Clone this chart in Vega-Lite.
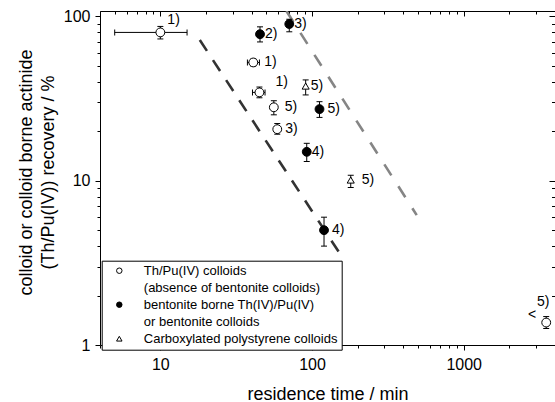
{
  "$schema": "https://vega.github.io/schema/vega-lite/v6.json",
  "width": 455,
  "height": 334,
  "autosize": {"type": "none"},
  "padding": {"left": 100, "top": 11, "right": 0, "bottom": 57},
  "background": "white",
  "config": {
    "font": "Liberation Sans",
    "view": {"stroke": null},
    "axis": {
      "domainColor": "black",
      "tickColor": "black",
      "labelColor": "black",
      "titleColor": "black",
      "grid": false,
      "labelFont": "Liberation Sans",
      "titleFont": "Liberation Sans",
      "titleFontWeight": "normal",
      "domainWidth": 1,
      "tickWidth": 1,
      "zindex": 1,
      "labelFlush": false,
      "labelOverlap": false
    }
  },
  "datasets": {
    "fits": [
      {"fit": "bentonite", "t": 18.2, "r": 71.9},
      {"fit": "bentonite", "t": 160, "r": 3.37},
      {"fit": "polystyrene", "t": 67.8, "r": 108},
      {"fit": "polystyrene", "t": 490, "r": 6.18}
    ],
    "pts": [
      {"id": "A1", "series": "Th/Pu(IV) colloids", "label": "1)", "t": 10, "r": 80, "rlo": 73, "rhi": 87, "tlo": 5, "thi": 15},
      {"id": "A2", "series": "Th/Pu(IV) colloids", "label": "1)", "t": 41, "r": 52.5, "rlo": 50, "rhi": 55, "tlo": 37.5, "thi": 45},
      {"id": "A3", "series": "Th/Pu(IV) colloids", "label": "1)", "t": 45, "r": 34.5, "rlo": 32, "rhi": 37.2, "tlo": 40.5, "thi": 49},
      {"id": "A4", "series": "Th/Pu(IV) colloids", "label": "5)", "t": 56, "r": 28, "rlo": 25.2, "rhi": 30.7},
      {"id": "A5", "series": "Th/Pu(IV) colloids", "label": "3)", "t": 59, "r": 20.6, "rlo": 19.2, "rhi": 22.3},
      {"id": "A6", "series": "Th/Pu(IV) colloids", "label": "5)", "t": 3500, "r": 1.37, "rlo": 1.26, "rhi": 1.49},
      {"id": "B1", "series": "bentonite borne Th(IV)/Pu(IV)", "label": "2)", "t": 45.4, "r": 78, "rlo": 70, "rhi": 86.5},
      {"id": "B2", "series": "bentonite borne Th(IV)/Pu(IV)", "label": "3)", "t": 70.8, "r": 90, "rlo": 80.7, "rhi": 96.2},
      {"id": "B3", "series": "bentonite borne Th(IV)/Pu(IV)", "label": "5)", "t": 112, "r": 27.3, "rlo": 24.3, "rhi": 30.3},
      {"id": "B4", "series": "bentonite borne Th(IV)/Pu(IV)", "label": "4)", "t": 92.3, "r": 15, "rlo": 13.1, "rhi": 16.9},
      {"id": "B5", "series": "bentonite borne Th(IV)/Pu(IV)", "label": "4)", "t": 120, "r": 5, "rlo": 4, "rhi": 6},
      {"id": "C1", "series": "Carboxylated polystyrene colloids", "label": "5)", "t": 90.8, "r": 37.7, "rlo": 33.3, "rhi": 41.1},
      {"id": "C2", "series": "Carboxylated polystyrene colloids", "label": "5)", "t": 180, "r": 10.1, "rlo": 9.1, "rhi": 10.8}
    ]
  },
  "layer": [
    {
      "data": {"name": "fits"},
      "mark": {"type": "line", "strokeWidth": 2.6, "clip": true},
      "encoding": {
        "x": {
          "field": "t", "type": "quantitative",
          "scale": {"type": "log", "domain": [4, 4000], "nice": false},
          "axis": {
            "orient": "bottom",
            "values": [4,5,6,7,8,9,10,20,30,40,50,60,70,80,90,100,200,300,400,500,600,700,800,900,1000,2000,3000,4000],
            "labelExpr": "(datum.value === 10 || datum.value === 100 || datum.value === 1000) ? format(datum.value, 'd') : ''",
            "tickSize": {"condition": {"test": "datum.value === 10 || datum.value === 100 || datum.value === 1000", "value": 5}, "value": 3},
            "labelPadding": 6,
            "labelFontSize": 16,
            "title": "residence time / min",
            "titleFontSize": 18,
            "titleY": 54,
            "titleBaseline": "alphabetic"
          }
        },
        "y": {
          "field": "r", "type": "quantitative",
          "scale": {"type": "log", "domain": [1, 108], "nice": false},
          "axis": {
            "orient": "left",
            "values": [1,2,3,4,5,6,7,8,9,10,20,30,40,50,60,70,80,90,100],
            "labelExpr": "(datum.value === 1 || datum.value === 10 || datum.value === 100) ? format(datum.value, 'd') : ''",
            "tickSize": {"condition": {"test": "datum.value === 1 || datum.value === 10 || datum.value === 100", "value": 5}, "value": 3},
            "labelPadding": 5,
            "labelFontSize": 16,
            "title": ["colloid or colloid borne actinide", "(Th/Pu(IV)) recovery / %"],
            "titleFontSize": 18,
            "titleX": -69,
            "titleY": 161,
            "titleAngle": 270,
            "titleAlign": "center",
            "titleBaseline": "alphabetic",
            "titleLineHeight": 22
          }
        },
        "color": {"field": "fit", "type": "nominal", "scale": {"domain": ["bentonite", "polystyrene"], "range": ["#333333", "#858585"]}, "legend": null},
        "strokeDash": {"field": "fit", "type": "nominal", "scale": {"domain": ["bentonite", "polystyrene"], "range": [[13, 11], [13, 13]]}, "legend": null}
      }
    },
    {
      "data": {"name": "pts"},
      "mark": {"type": "rule", "color": "black", "strokeWidth": 1},
      "encoding": {
        "x": {
          "field": "t", "type": "quantitative",
          "scale": {"type": "log", "domain": [4, 4000], "nice": false},
          "axis": {
            "orient": "top",
            "values": [4,5,6,7,8,9,10,20,30,40,50,60,70,80,90,100,200,300,400,500,600,700,800,900,1000,2000,3000,4000],
            "labels": false,
            "tickSize": {"condition": {"test": "datum.value === 10 || datum.value === 100 || datum.value === 1000", "value": -5}, "value": -3},
            "title": null
          }
        },
        "y": {
          "field": "rlo", "type": "quantitative",
          "scale": {"type": "log", "domain": [1, 108], "nice": false},
          "axis": {
            "orient": "right",
            "values": [1,2,3,4,5,6,7,8,9,10,20,30,40,50,60,70,80,90,100],
            "labels": false,
            "domain": false,
            "tickSize": {"condition": {"test": "datum.value === 1 || datum.value === 10 || datum.value === 100", "value": -6}, "value": -3.5},
            "title": null
          }
        },
        "y2": {"field": "rhi"}
      }
    },
    {
      "data": {"name": "pts"},
      "transform": [{"fold": ["rlo", "rhi"], "as": ["end", "v"]}],
      "mark": {"type": "tick", "orient": "horizontal", "size": 6, "thickness": 1, "color": "black", "opacity": 1},
      "encoding": {
        "x": {"field": "t", "type": "quantitative", "scale": {"type": "log", "domain": [4, 4000], "nice": false}, "axis": null},
        "y": {"field": "v", "type": "quantitative", "scale": {"type": "log", "domain": [1, 108], "nice": false}, "axis": null}
      }
    },
    {
      "data": {"name": "pts"},
      "transform": [{"filter": "isValid(datum.tlo)"}],
      "mark": {"type": "rule", "color": "black", "strokeWidth": 1},
      "encoding": {
        "x": {"field": "tlo", "type": "quantitative", "scale": {"type": "log", "domain": [4, 4000], "nice": false}, "axis": null},
        "x2": {"field": "thi"},
        "y": {"field": "r", "type": "quantitative", "scale": {"type": "log", "domain": [1, 108], "nice": false}, "axis": null}
      }
    },
    {
      "data": {"name": "pts"},
      "transform": [{"filter": "isValid(datum.tlo)"}, {"fold": ["tlo", "thi"], "as": ["end", "v"]}],
      "mark": {"type": "tick", "orient": "vertical", "size": 6, "thickness": 1, "color": "black", "opacity": 1},
      "encoding": {
        "x": {"field": "v", "type": "quantitative", "scale": {"type": "log", "domain": [4, 4000], "nice": false}, "axis": null},
        "y": {"field": "r", "type": "quantitative", "scale": {"type": "log", "domain": [1, 108], "nice": false}, "axis": null}
      }
    },
    {
      "data": {"name": "pts"},
      "mark": {"type": "point", "filled": true, "stroke": "black", "strokeWidth": 1, "opacity": 1},
      "encoding": {
        "x": {"field": "t", "type": "quantitative", "scale": {"type": "log", "domain": [4, 4000], "nice": false}, "axis": null},
        "y": {"field": "r", "type": "quantitative", "scale": {"type": "log", "domain": [1, 108], "nice": false}, "axis": null},
        "size": {"condition": {"test": "datum.series === 'Carboxylated polystyrene colloids'", "value": 50}, "value": 78},
        "fill": {"condition": {"test": "datum.series === 'bentonite borne Th(IV)/Pu(IV)'", "value": "black"}, "value": "white"},
        "shape": {
          "field": "series", "type": "nominal",
          "scale": {"domain": ["Th/Pu(IV) colloids", "(absence of bentonite colloids)", "bentonite borne Th(IV)/Pu(IV)", "or bentonite colloids", "Carboxylated polystyrene colloids"], "range": ["circle", "M0,0", "circle", "M0,0", "triangle-up"]},
          "legend": {
            "orient": "none", "legendX": 1.7, "legendY": 249.7, "title": null,
            "padding": 3.5, "strokeColor": "black", "fillColor": "white", "cornerRadius": 0,
            "symbolSize": 30, "symbolStrokeWidth": 1,
            "symbolOffset": 7.6, "labelOffset": 18, "labelFontSize": 13, "labelFont": "Liberation Sans",
            "labelColor": "black", "labelLimit": 400, "rowPadding": 3,
            "labelExpr": "(datum.label === '(absence of bentonite colloids)' || datum.label === 'or bentonite colloids') ? '\u00a0' + datum.label : datum.label === 'Carboxylated polystyrene colloids' ? datum.label + '\u00a0\u00a0\u00a0\u00a0\u00a0\u00a0\u00a0\u00a0' : datum.label",
            "encoding": {
              "symbols": {
                "fill": {"value": {"expr": "datum.value === 'bentonite borne Th(IV)/Pu(IV)' ? 'black' : 'white'"}},
                "stroke": {"value": "black"},
                "strokeWidth": {"value": 1}
              }
            }
          }
        }
      }
    },
    {
      "data": {"name": "pts"},
      "transform": [{"filter": "indexof(['B1','B2','B4','C1'], datum.id) >= 0"}],
      "mark": {"type": "text", "align": "left", "baseline": "middle", "dx": 5, "fontSize": 14, "font": "Liberation Sans", "color": "black"},
      "encoding": {
        "x": {"field": "t", "type": "quantitative", "scale": {"type": "log", "domain": [4, 4000], "nice": false}, "axis": null},
        "y": {"field": "r", "type": "quantitative", "scale": {"type": "log", "domain": [1, 108], "nice": false}, "axis": null},
        "text": {"field": "label"}
      }
    },
    {
      "data": {"name": "pts"},
      "transform": [{"filter": "indexof(['B3','B5','A5'], datum.id) >= 0"}],
      "mark": {"type": "text", "align": "left", "baseline": "middle", "dx": 8, "fontSize": 14, "font": "Liberation Sans", "color": "black"},
      "encoding": {
        "x": {"field": "t", "type": "quantitative", "scale": {"type": "log", "domain": [4, 4000], "nice": false}, "axis": null},
        "y": {"field": "r", "type": "quantitative", "scale": {"type": "log", "domain": [1, 108], "nice": false}, "axis": null},
        "text": {"field": "label"}
      }
    },
    {
      "data": {"name": "pts"},
      "transform": [{"filter": "indexof(['A2','A4','C2'], datum.id) >= 0"}],
      "mark": {"type": "text", "align": "left", "baseline": "middle", "dx": 11, "fontSize": 14, "font": "Liberation Sans", "color": "black"},
      "encoding": {
        "x": {"field": "t", "type": "quantitative", "scale": {"type": "log", "domain": [4, 4000], "nice": false}, "axis": null},
        "y": {"field": "r", "type": "quantitative", "scale": {"type": "log", "domain": [1, 108], "nice": false}, "axis": null},
        "text": {"field": "label"}
      }
    },
    {
      "data": {"name": "pts"},
      "transform": [{"filter": "datum.id === 'A1'"}],
      "mark": {"type": "text", "align": "left", "baseline": "middle", "dx": 7, "dy": -12, "fontSize": 14, "font": "Liberation Sans", "color": "black"},
      "encoding": {
        "x": {"field": "t", "type": "quantitative", "scale": {"type": "log", "domain": [4, 4000], "nice": false}, "axis": null},
        "y": {"field": "r", "type": "quantitative", "scale": {"type": "log", "domain": [1, 108], "nice": false}, "axis": null},
        "text": {"field": "label"}
      }
    },
    {
      "data": {"name": "pts"},
      "transform": [{"filter": "datum.id === 'A3'"}],
      "mark": {"type": "text", "align": "left", "baseline": "middle", "dx": 16, "dy": -10, "fontSize": 14, "font": "Liberation Sans", "color": "black"},
      "encoding": {
        "x": {"field": "t", "type": "quantitative", "scale": {"type": "log", "domain": [4, 4000], "nice": false}, "axis": null},
        "y": {"field": "r", "type": "quantitative", "scale": {"type": "log", "domain": [1, 108], "nice": false}, "axis": null},
        "text": {"field": "label"}
      }
    },
    {
      "data": {"name": "pts"},
      "transform": [{"filter": "datum.id === 'A6'"}],
      "mark": {"type": "text", "align": "center", "baseline": "middle", "dx": -3, "dy": -21, "fontSize": 14, "font": "Liberation Sans", "color": "black"},
      "encoding": {
        "x": {"field": "t", "type": "quantitative", "scale": {"type": "log", "domain": [4, 4000], "nice": false}, "axis": null},
        "y": {"field": "r", "type": "quantitative", "scale": {"type": "log", "domain": [1, 108], "nice": false}, "axis": null},
        "text": {"field": "label"}
      }
    },
    {
      "data": {"name": "pts"},
      "transform": [{"filter": "datum.id === 'A6'"}],
      "mark": {"type": "text", "text": "<", "align": "center", "baseline": "middle", "dx": -14, "dy": -8, "fontSize": 14, "font": "Liberation Sans", "color": "black"},
      "encoding": {
        "x": {"field": "t", "type": "quantitative", "scale": {"type": "log", "domain": [4, 4000], "nice": false}, "axis": null},
        "y": {"field": "r", "type": "quantitative", "scale": {"type": "log", "domain": [1, 108], "nice": false}, "axis": null}
      }
    }
  ],
  "resolve": {"axis": {"x": "independent", "y": "independent"}}
}
